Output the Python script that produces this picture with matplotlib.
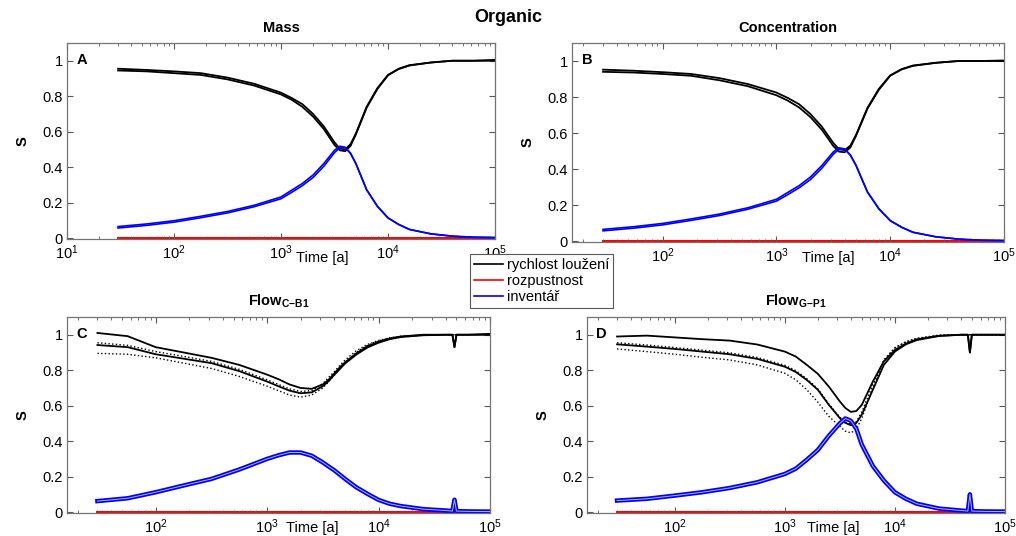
import matplotlib
matplotlib.use('Agg')
import matplotlib.pyplot as plt
from matplotlib.lines import Line2D
from matplotlib.ticker import LogLocator, FixedLocator, FixedFormatter, NullFormatter

plt.rcParams['font.family'] = ['Liberation Sans', 'DejaVu Sans']
plt.rcParams['mathtext.fontset'] = 'custom'
plt.rcParams['mathtext.rm'] = 'Liberation Sans'
plt.rcParams['mathtext.bf'] = 'Liberation Sans:bold'
plt.rcParams['mathtext.it'] = 'Liberation Sans:italic'

# DATA -----------------------------------------------------------------
t = [30, 56, 100, 178, 316, 562, 1000, 1259, 1585, 1995, 2512, 3162, 3548, 3981,
     4467, 5012, 6310, 7943, 10000, 12589, 15849, 25119, 39811, 46000, 48000,
     50000, 63096, 100000]

# A - Mass
a_black1 = [0.955, 0.948, 0.94, 0.93, 0.905, 0.87, 0.82, 0.79, 0.755, 0.70, 0.63, 0.54, 0.505, 0.50,
            0.53, 0.59, 0.74, 0.845, 0.92, 0.955, 0.975, 0.99, 1.0, 1.0, 1.0, 1.0, 1.0, 1.005]
a_black2 = [0.945, 0.94, 0.93, 0.92, 0.895, 0.86, 0.81, 0.78, 0.74, 0.685, 0.615, 0.525, 0.495, 0.49,
            0.52, 0.585, 0.735, 0.84, 0.918, 0.953, 0.973, 0.99, 1.0, 1.0, 1.0, 1.0, 1.0, 1.0]
a_blue1 = [0.065, 0.08, 0.098, 0.123, 0.15, 0.185, 0.232, 0.27, 0.308, 0.356, 0.42, 0.495, 0.518, 0.512,
           0.478, 0.42, 0.273, 0.18, 0.114, 0.077, 0.049, 0.024, 0.011, 0.009, 0.008, 0.008, 0.005, 0.003]
a_blue2 = [0.057, 0.072, 0.09, 0.115, 0.142, 0.177, 0.222, 0.258, 0.296, 0.342, 0.405, 0.482, 0.51, 0.51,
           0.478, 0.42, 0.273, 0.18, 0.114, 0.077, 0.049, 0.024, 0.011, 0.009, 0.008, 0.008, 0.005, 0.003]

# B - Concentration
b_black1 = [0.952, 0.946, 0.938, 0.928, 0.905, 0.872, 0.825, 0.795, 0.76, 0.705, 0.635, 0.545, 0.51, 0.505,
            0.53, 0.59, 0.74, 0.845, 0.92, 0.955, 0.975, 0.99, 1.0, 1.0, 1.0, 1.0, 1.0, 1.003]
b_black2 = [0.94, 0.936, 0.928, 0.918, 0.893, 0.86, 0.81, 0.78, 0.742, 0.688, 0.618, 0.528, 0.497, 0.493,
            0.52, 0.585, 0.735, 0.84, 0.918, 0.953, 0.973, 0.99, 1.0, 1.0, 1.0, 1.0, 1.0, 1.0]
b_blue1 = [0.065, 0.08, 0.098, 0.123, 0.15, 0.185, 0.232, 0.27, 0.308, 0.356, 0.42, 0.495, 0.518, 0.512,
           0.478, 0.42, 0.273, 0.18, 0.114, 0.077, 0.049, 0.024, 0.011, 0.009, 0.008, 0.008, 0.005, 0.003]
b_blue2 = [0.057, 0.072, 0.09, 0.115, 0.142, 0.177, 0.222, 0.258, 0.296, 0.342, 0.405, 0.482, 0.51, 0.51,
           0.478, 0.42, 0.273, 0.18, 0.114, 0.077, 0.049, 0.024, 0.011, 0.009, 0.008, 0.008, 0.005, 0.003]

# C - Flow C-B1
c_black1 = [1.01, 0.992, 0.93, 0.90, 0.87, 0.83, 0.775, 0.75, 0.72, 0.70, 0.695, 0.72, 0.745, 0.78,
            0.815, 0.845, 0.895, 0.935, 0.96, 0.978, 0.99, 1.0, 1.0, 1.0, 0.93, 1.0, 1.0, 1.005]
c_black2 = [0.942, 0.93, 0.89, 0.865, 0.84, 0.795, 0.736, 0.71, 0.685, 0.67, 0.675, 0.71, 0.738, 0.772,
            0.805, 0.838, 0.888, 0.928, 0.955, 0.975, 0.987, 0.997, 1.0, 1.0, 0.93, 1.0, 1.0, 1.0]
c_dot1 = [0.955, 0.94, 0.905, 0.878, 0.85, 0.805, 0.746, 0.72, 0.695, 0.68, 0.685, 0.725, 0.758, 0.79,
          0.825, 0.858, 0.91, 0.945, 0.968, 0.983, 0.992, 0.998, 1.0, 1.0, 1.0, 1.0, 1.0, 1.0]
c_dot2 = [0.895, 0.89, 0.87, 0.84, 0.81, 0.765, 0.71, 0.685, 0.66, 0.648, 0.66, 0.70, 0.733, 0.77,
          0.808, 0.843, 0.9, 0.94, 0.965, 0.981, 0.99, 0.997, 1.0, 1.0, 1.0, 1.0, 1.0, 1.0]
c_blue = [0.062, 0.078, 0.112, 0.15, 0.187, 0.24, 0.30, 0.32, 0.336, 0.336, 0.318, 0.28, 0.258, 0.237,
          0.212, 0.187, 0.14, 0.103, 0.069, 0.047, 0.034, 0.017, 0.009, 0.006, 0.07, 0.006, 0.004, 0.003]

# D - Flow G-P1
d_black1 = [0.99, 0.995, 0.985, 0.975, 0.967, 0.945, 0.905, 0.877, 0.83, 0.78, 0.708, 0.624, 0.587, 0.565,
            0.57, 0.605, 0.736, 0.85, 0.914, 0.95, 0.974, 0.994, 1.0, 1.0, 0.90, 1.0, 1.0, 1.0]
d_black2 = [0.946, 0.933, 0.92, 0.905, 0.89, 0.864, 0.82, 0.79, 0.745, 0.69, 0.605, 0.53, 0.503, 0.49,
            0.503, 0.55, 0.69, 0.83, 0.905, 0.946, 0.97, 0.993, 1.0, 1.0, 0.90, 1.0, 1.0, 1.0]
d_dot1 = [0.955, 0.942, 0.928, 0.913, 0.898, 0.872, 0.828, 0.798, 0.752, 0.695, 0.61, 0.535, 0.507, 0.495,
          0.51, 0.565, 0.72, 0.855, 0.925, 0.96, 0.978, 0.996, 1.0, 1.0, 1.0, 1.0, 1.0, 1.0]
d_dot2 = [0.92, 0.905, 0.89, 0.873, 0.858, 0.83, 0.783, 0.746, 0.69, 0.62, 0.54, 0.484, 0.456, 0.447,
          0.465, 0.53, 0.70, 0.858, 0.927, 0.96, 0.98, 0.998, 1.0, 1.0, 1.0, 1.0, 1.0, 1.0]
d_blue = [0.065, 0.075, 0.093, 0.112, 0.136, 0.168, 0.215, 0.245, 0.295, 0.35, 0.43, 0.50, 0.528, 0.515,
          0.47, 0.38, 0.26, 0.178, 0.112, 0.075, 0.047, 0.02, 0.009, 0.006, 0.10, 0.006, 0.004, 0.003]

# solubility stays at zero over the whole run
red_t = [30, 100000]
red_s = [0.0, 0.0]

titles = ['Mass', 'Concentration', r'$\mathbf{Flow_{C{-}B1}}$', r'$\mathbf{Flow_{G{-}P1}}$']
letters = ['A', 'B', 'C', 'D']
legend_labels = ['rychlost loužení', 'rozpustnost', 'inventář']
ytick_vals = [0, 0.2, 0.4, 0.6, 0.8, 1]
ytick_labels = ['0', '0.2', '0.4', '0.6', '0.8', '1']

W, H = 1016, 536
fig = plt.figure(figsize=(W / 100, H / 100), dpi=100)

# axes boxes in pixels: left, top, right, bottom
boxes = [(67, 43, 495, 239), (572, 43, 1004, 242), (67, 317, 490, 513), (587, 317, 1005, 513)]
xlims = [(10, 1e5), (16, 1e5), (16, 1e5), (16, 1e5)]
xlabel_pos = [(0.596, -0.097), (0.593, -0.08), (0.58, -0.077), (0.589, -0.077)]
axes = []
for (l, tp, r, b) in boxes:
    axes.append(fig.add_axes([l / W, 1 - b / H, (r - l) / W, (b - tp) / H]))


def style(ax, i):
    ax.set_xscale('log')
    ax.set_xlim(*xlims[i])
    ax.set_ylim(-0.005, 1.1)
    ax.xaxis.set_major_locator(LogLocator(base=10, numticks=10))
    ax.xaxis.set_minor_locator(LogLocator(base=10, subs=range(2, 10), numticks=20))
    ax.xaxis.set_minor_formatter(NullFormatter())
    ax.yaxis.set_major_locator(FixedLocator(ytick_vals))
    ax.yaxis.set_major_formatter(FixedFormatter(ytick_labels))
    ax.tick_params(which='both', direction='in', top=True, right=True, labelsize=10.5,
                   color='0.35', pad=3)
    ax.tick_params(which='major', length=4)
    ax.tick_params(which='minor', length=2)
    for s in ax.spines.values():
        s.set_color('0.45')
        s.set_linewidth(0.9)
    ax.set_title(titles[i], fontsize=10.5, fontweight='bold', pad=8)
    ax.text(0.022, 0.95, letters[i], transform=ax.transAxes, fontsize=10.5,
            fontweight='bold', va='top', ha='left')
    ax.set_ylabel('S', fontsize=10.5, fontweight='bold', labelpad=9)
    ax.set_xlabel('Time [a]', fontsize=10.5)
    ax.xaxis.set_label_coords(*xlabel_pos[i])
    ax.xaxis.label.set_va('center')


# A and B
for ax, bl1, bl2, bu1, bu2 in [(axes[0], a_black1, a_black2, a_blue1, a_blue2),
                               (axes[1], b_black1, b_black2, b_blue1, b_blue2)]:
    ax.plot(red_t, red_s, color='#ff0000', lw=2.2, zorder=1)
    ax.plot(t, bl1, color='k', lw=1.3)
    ax.plot(t, bl2, color='k', lw=1.3)
    ax.plot(t, bu1, color='#0000ff', lw=1.2)
    ax.plot(t, bu2, color='#0000ff', lw=1.2)

# C and D
for ax, s1, s2, d1, d2, bu in [(axes[2], c_black1, c_black2, c_dot1, c_dot2, c_blue),
                               (axes[3], d_black1, d_black2, d_dot1, d_dot2, d_blue)]:
    ax.plot(red_t, red_s, color='#ff0000', lw=2.2, zorder=1)
    ax.plot(t, d1, color='k', lw=1.0, ls=':')
    ax.plot(t, d2, color='k', lw=1.0, ls=':')
    ax.plot(t, s1, color='k', lw=1.3)
    ax.plot(t, s2, color='k', lw=1.3)
    ax.plot(t, bu, color='#0000ff', lw=3.2)
    ax.plot(t, bu, color='white', lw=0.7, alpha=0.7)

for i, ax in enumerate(axes):
    style(ax, i)

fig.text(508 / W, 1 - 18 / H, 'Organic', ha='center', va='center', fontsize=13, fontweight='bold')

handles = [Line2D([], [], color='k', lw=1.2),
           Line2D([], [], color='#ff0000', lw=1.2),
           Line2D([], [], color='#0000ff', lw=1.2)]
leg = fig.legend(handles, legend_labels, loc='upper left', bbox_to_anchor=(470 / W, 1 - 254 / H),
                 fontsize=10.5, frameon=True, fancybox=False, framealpha=1, edgecolor='0.35',
                 borderaxespad=0, borderpad=0.25, labelspacing=0.15, handlelength=2.0,
                 handletextpad=0.3)
leg.get_frame().set_linewidth(0.8)

fig.savefig('out.png', dpi=100)
